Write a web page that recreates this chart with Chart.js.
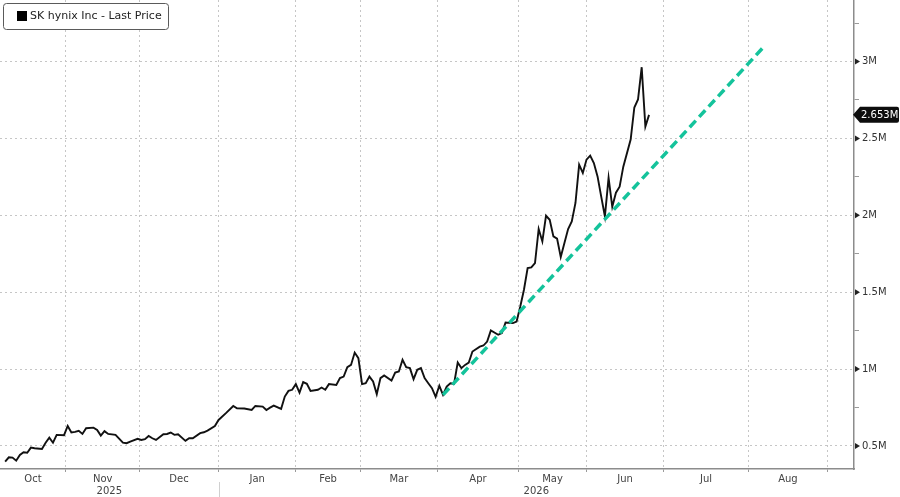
<!DOCTYPE html>
<html>
<head>
<meta charset="utf-8">
<style>
  html, body { margin: 0; padding: 0; background: #fff; }
  #wrap { width: 900px; height: 497px; }
</style>
<script src="https://cdn.jsdelivr.net/npm/chart.js@4.4.1/dist/chart.umd.min.js"></script>
</head>
<body>
<div id="wrap"><canvas id="chart" width="900" height="497" aria-label="SK hynix Inc last price, Oct 2025 to Jun 2026"></canvas></div>
<script>
// x = trading-session index (0 = first plotted session, end of Sep 2025)
const sessions = [
  0, 1, 2, 3, 4, 5, 6, 7, 8, 10, 11, 12, 13, 14, 16, 17, 18, 19, 20, 21, 22, 24, 25, 26, 27, 28, 30,
  32, 33, 34, 36, 37, 38, 39, 40, 41, 43, 44, 45, 46, 47, 49, 50, 51, 53, 54, 55, 57, 58,
  60, 62, 63, 65, 67, 68, 70, 71, 72, 73, 75, 76, 77, 78, 79, 80, 81, 82, 83, 85, 86, 87, 88, 90,
  91, 92, 93, 94, 95, 96, 97, 98, 99, 100, 101, 102, 103, 105, 106, 107, 108, 109, 110, 111, 112, 113,
  114, 115, 116, 117, 118, 119, 120, 121, 122, 123, 124, 125, 126, 127, 129, 130, 131, 132, 134, 135,
  136, 138, 139, 140, 141, 142, 143, 144, 145, 146, 147, 148, 149, 150, 151, 152, 153, 154, 155, 156,
  157, 158, 159, 160, 161, 162, 163, 164, 165, 166, 167, 168, 170, 171, 172, 173, 174, 175
];
// last price, millions of KRW
const prices = [
  0.398, 0.426, 0.424, 0.404, 0.441, 0.459, 0.456, 0.489, 0.485, 0.480, 0.521, 0.554, 0.521, 0.572, 0.570, 0.630, 0.587, 0.591, 0.598, 0.578, 0.615, 0.619, 0.604, 0.567, 0.596, 0.578, 0.572,
  0.521, 0.518, 0.528, 0.546, 0.539, 0.544, 0.565, 0.550, 0.539, 0.576, 0.578, 0.587, 0.572, 0.576, 0.533, 0.550, 0.550, 0.583, 0.589, 0.600, 0.630, 0.669,
  0.713, 0.760, 0.745, 0.743, 0.734, 0.760, 0.756, 0.734, 0.749, 0.762, 0.741, 0.821, 0.858, 0.865, 0.902, 0.847, 0.915, 0.904, 0.858, 0.865, 0.880, 0.865, 0.902, 0.897,
  0.941, 0.951, 1.012, 1.027, 1.107, 1.071, 0.902, 0.908, 0.951, 0.919, 0.837, 0.941, 0.958, 0.925, 0.977, 0.984, 1.060, 1.012, 1.006, 0.934, 0.995, 1.006,
  0.941, 0.908, 0.876, 0.819, 0.891, 0.832, 0.886, 0.908, 0.904, 1.042, 1.006, 1.027, 1.042, 1.114, 1.146, 1.153, 1.179, 1.251, 1.223, 1.234,
  1.303, 1.299, 1.309, 1.407, 1.516, 1.657, 1.661, 1.689, 1.911, 1.830, 1.997, 1.971, 1.863, 1.848, 1.729, 1.820, 1.911, 1.960, 2.080, 2.329,
  2.275, 2.362, 2.388, 2.340, 2.253, 2.121, 1.993, 2.243, 2.056, 2.147, 2.186, 2.316, 2.492, 2.701, 2.753, 2.963, 2.577, 2.653
];
const trendSessions = [119, 206];
const trendValues = [0.832, 3.091];

const xMin = -1.4;
const xMax = 230.7;
const monthBreaks = [16.5, 36.5, 58, 79, 96.5, 117.5, 139.5, 158, 179, 202, 223.5];
const monthLabels = ['Oct', 'Nov', 'Dec', 'Jan', 'Feb', 'Mar', 'Apr', 'May', 'Jun', 'Jul', 'Aug'];
const yearLabels = ['2025', '2026'];
const yearBreak = 58;
const yMajorTicks = [0.5, 1, 1.5, 2, 2.5, 3];
const yMinorTicks = [0.75, 1.25, 1.75, 2.25, 2.75, 3.25];
const seriesName = 'SK hynix Inc - Last Price';

const FONT = "'DejaVu Sans', Verdana, sans-serif";
const GRID = '#c6c6c6';

// x ticks: month breaks carry the grid, mid-month ticks carry the names, year ticks the years
const monthEdges = [xMin, ...monthBreaks];
const xLabelAt = new Map();
monthLabels.forEach((m, i) => xLabelAt.set((monthEdges[i] + monthEdges[i + 1]) / 2, m));
xLabelAt.set((xMin + yearBreak) / 2, ['', yearLabels[0]]);
xLabelAt.set((yearBreak + xMax) / 2, ['', yearLabels[1]]);
const xTickValues = [...monthBreaks, ...xLabelAt.keys()];
const isBreak = (v) => monthBreaks.includes(v);
const isMajor = (v) => yMajorTicks.includes(v);

// plot area runs edge to edge: drop the label overhang padding Chart.js reserves
function noOverhang(scale) {
  scale.paddingTop = 0;
  scale.paddingBottom = 0;
  scale.paddingLeft = 0;
  scale.paddingRight = 0;
}

const overlay = {
  id: 'overlay',
  afterDraw(chart) {
    const { ctx, chartArea, scales: { x, y } } = chart;
    ctx.save();

    // pointers at the labelled price ticks
    ctx.fillStyle = '#222';
    yMajorTicks.forEach((v) => {
      const py = y.getPixelForValue(v);
      ctx.beginPath();
      ctx.moveTo(chartArea.right + 1, py - 3);
      ctx.lineTo(chartArea.right + 6, py);
      ctx.lineTo(chartArea.right + 1, py + 3);
      ctx.closePath();
      ctx.fill();
    });

    // year separator under the axis
    const sx = Math.round(x.getPixelForValue(yearBreak)) + 0.5;
    ctx.strokeStyle = '#d0d0d0';
    ctx.lineWidth = 1;
    ctx.beginPath();
    ctx.moveTo(sx, chartArea.bottom + 13);
    ctx.lineTo(sx, chart.height);
    ctx.stroke();

    // last price tag
    const last = prices[prices.length - 1];
    const ty = y.getPixelForValue(last);
    const l = chartArea.right - 1;
    const r = chart.width - 1;
    ctx.fillStyle = '#0d0d0d';
    ctx.beginPath();
    ctx.moveTo(l, ty);
    ctx.lineTo(l + 7, ty - 8);
    ctx.lineTo(r - 2, ty - 8);
    ctx.quadraticCurveTo(r, ty - 8, r, ty - 6);
    ctx.lineTo(r, ty + 6);
    ctx.quadraticCurveTo(r, ty + 8, r - 2, ty + 8);
    ctx.lineTo(l + 7, ty + 8);
    ctx.closePath();
    ctx.fill();
    ctx.fillStyle = '#fff';
    ctx.font = `10px ${FONT}`;
    ctx.textBaseline = 'middle';
    ctx.textAlign = 'left';
    ctx.fillText(last.toFixed(3) + 'M', l + 8, ty + 0.5);

    // legend box
    ctx.fillStyle = '#fff';
    ctx.strokeStyle = '#5a5a5a';
    ctx.lineWidth = 1;
    ctx.beginPath();
    ctx.roundRect(3.5, 3.5, 165, 26, 3);
    ctx.fill();
    ctx.stroke();
    ctx.fillStyle = '#000';
    ctx.fillRect(17, 11, 10, 10);
    ctx.fillStyle = '#222';
    ctx.font = `11px ${FONT}`;
    ctx.fillText(seriesName, 30, 16.5);

    ctx.restore();
  },
};

new Chart(document.getElementById('chart'), {
  type: 'line',
  data: {
    datasets: [
      {
        label: 'Trend',
        data: trendSessions.map((s, i) => ({ x: s, y: trendValues[i] })),
        borderColor: '#14c39b',
        borderWidth: 3.5,
        borderDash: [9, 5],
        pointRadius: 0,
        tension: 0,
      },
      {
        label: seriesName,
        data: sessions.map((s, i) => ({ x: s, y: prices[i] })),
        borderColor: '#111',
        borderWidth: 1.9,
        pointRadius: 0,
        tension: 0,
      },
    ],
  },
  options: {
    responsive: false,
    animation: false,
    layout: { padding: 0 },
    plugins: { legend: { display: false }, tooltip: { enabled: false } },
    scales: {
      x: {
        type: 'linear',
        min: xMin,
        max: xMax,
        afterBuildTicks(scale) { scale.ticks = xTickValues.map((v) => ({ value: v })); },
        afterFit(scale) { scale.height = 28; noOverhang(scale); },
        grid: {
          color: (c) => (c.tick && isBreak(c.tick.value) ? GRID : 'transparent'),
          tickColor: (c) => (c.tick && isBreak(c.tick.value) ? '#9a9a9a' : 'transparent'),
          tickLength: 3,
          lineWidth: 1,
        },
        border: { color: '#8c8c8c', width: 1.5, dash: [2, 3] },
        ticks: {
          autoSkip: false,
          maxRotation: 0,
          minRotation: 0,
          padding: 1,
          color: '#444',
          font: { family: FONT, size: 10, lineHeight: 1.2 },
          callback: (v) => xLabelAt.get(v) ?? '',
        },
      },
      y: {
        position: 'right',
        min: 0.35,
        max: 3.4,
        afterBuildTicks(scale) {
          scale.ticks = [...yMajorTicks, ...yMinorTicks].sort((a, b) => a - b).map((v) => ({ value: v }));
        },
        afterFit(scale) { scale.width = 46; noOverhang(scale); },
        grid: {
          color: (c) => (c.tick && isMajor(c.tick.value) ? GRID : 'transparent'),
          tickColor: (c) => (c.tick && isMajor(c.tick.value) ? 'transparent' : '#9a9a9a'),
          tickLength: 5,
          lineWidth: 1,
        },
        border: { color: '#8c8c8c', width: 1.5, dash: [2, 3] },
        ticks: {
          padding: 3,
          color: '#333',
          font: { family: FONT, size: 10 },
          callback: (v) => (isMajor(v) ? `${v}M` : ''),
        },
      },
    },
  },
  plugins: [overlay],
});
</script>
</body>
</html>
